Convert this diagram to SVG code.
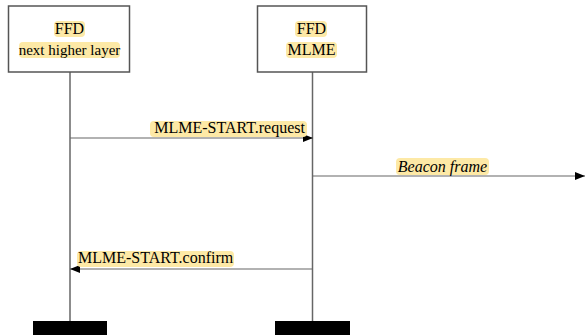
<svg xmlns="http://www.w3.org/2000/svg" width="585" height="335" viewBox="0 0 585 335">
<defs>
<marker id="ah" viewBox="0 0 10 8" refX="10" refY="4" markerWidth="10" markerHeight="8" markerUnits="userSpaceOnUse" orient="auto">
<path d="M0,0 L10,4 L0,8 Z" fill="#000"/>
</marker>
</defs>
<g id="lifelines" stroke="#666" stroke-width="1.5" fill="none">
<line x1="70" y1="72" x2="70" y2="321"/>
<line x1="312.5" y1="72" x2="312.5" y2="321"/>
</g>
<g id="node-ffd-nhl">
<rect x="8.5" y="6" width="121" height="66" fill="#fff" stroke="#555" stroke-width="1.5"/>
<rect x="54" y="21" width="31" height="16" rx="4" fill="#fde9a6"/>
<rect x="19" y="42" width="101" height="16" rx="4" fill="#fde9a6"/>
<text x="69.5" y="34" text-anchor="middle" font-family="Liberation Serif" font-size="16">FFD</text>
<text x="69.5" y="55" text-anchor="middle" font-family="Liberation Serif" font-size="15">next higher layer</text>
<rect x="33" y="321" width="74" height="14" fill="#000"/>
</g>
<g id="node-ffd-mlme">
<rect x="257.5" y="6" width="109" height="66" fill="#fff" stroke="#555" stroke-width="1.5"/>
<rect x="295" y="21" width="32" height="16" rx="4" fill="#fde9a6"/>
<rect x="286" y="42" width="51" height="16" rx="4" fill="#fde9a6"/>
<text x="311.5" y="34" text-anchor="middle" font-family="Liberation Serif" font-size="16">FFD</text>
<text x="311.5" y="55" text-anchor="middle" font-family="Liberation Serif" font-size="16">MLME</text>
<rect x="275" y="321" width="75" height="14" fill="#000"/>
</g>
<g id="connectors">
<line x1="70" y1="138" x2="313" y2="138" stroke="#666" stroke-width="1.2" marker-end="url(#ah)"/>
<rect x="150" y="121" width="157" height="16" rx="4" fill="#fde9a6"/>
<text x="305" y="133" text-anchor="end" font-family="Liberation Serif" font-size="16">MLME-START.request</text>
<line x1="313" y1="176" x2="585" y2="176" stroke="#666" stroke-width="1.2" marker-end="url(#ah)"/>
<rect x="396" y="158" width="93" height="17" rx="4" fill="#fde9a6"/>
<text x="442.5" y="172" text-anchor="middle" font-family="Liberation Serif" font-size="16" font-style="italic">Beacon frame</text>
<line x1="312.5" y1="269" x2="70" y2="269" stroke="#666" stroke-width="1.2" marker-end="url(#ah)"/>
<rect x="77" y="251" width="157" height="16" rx="4" fill="#fde9a6"/>
<text x="78" y="263" font-family="Liberation Serif" font-size="16">MLME-START.confirm</text>
</g>
</svg>
